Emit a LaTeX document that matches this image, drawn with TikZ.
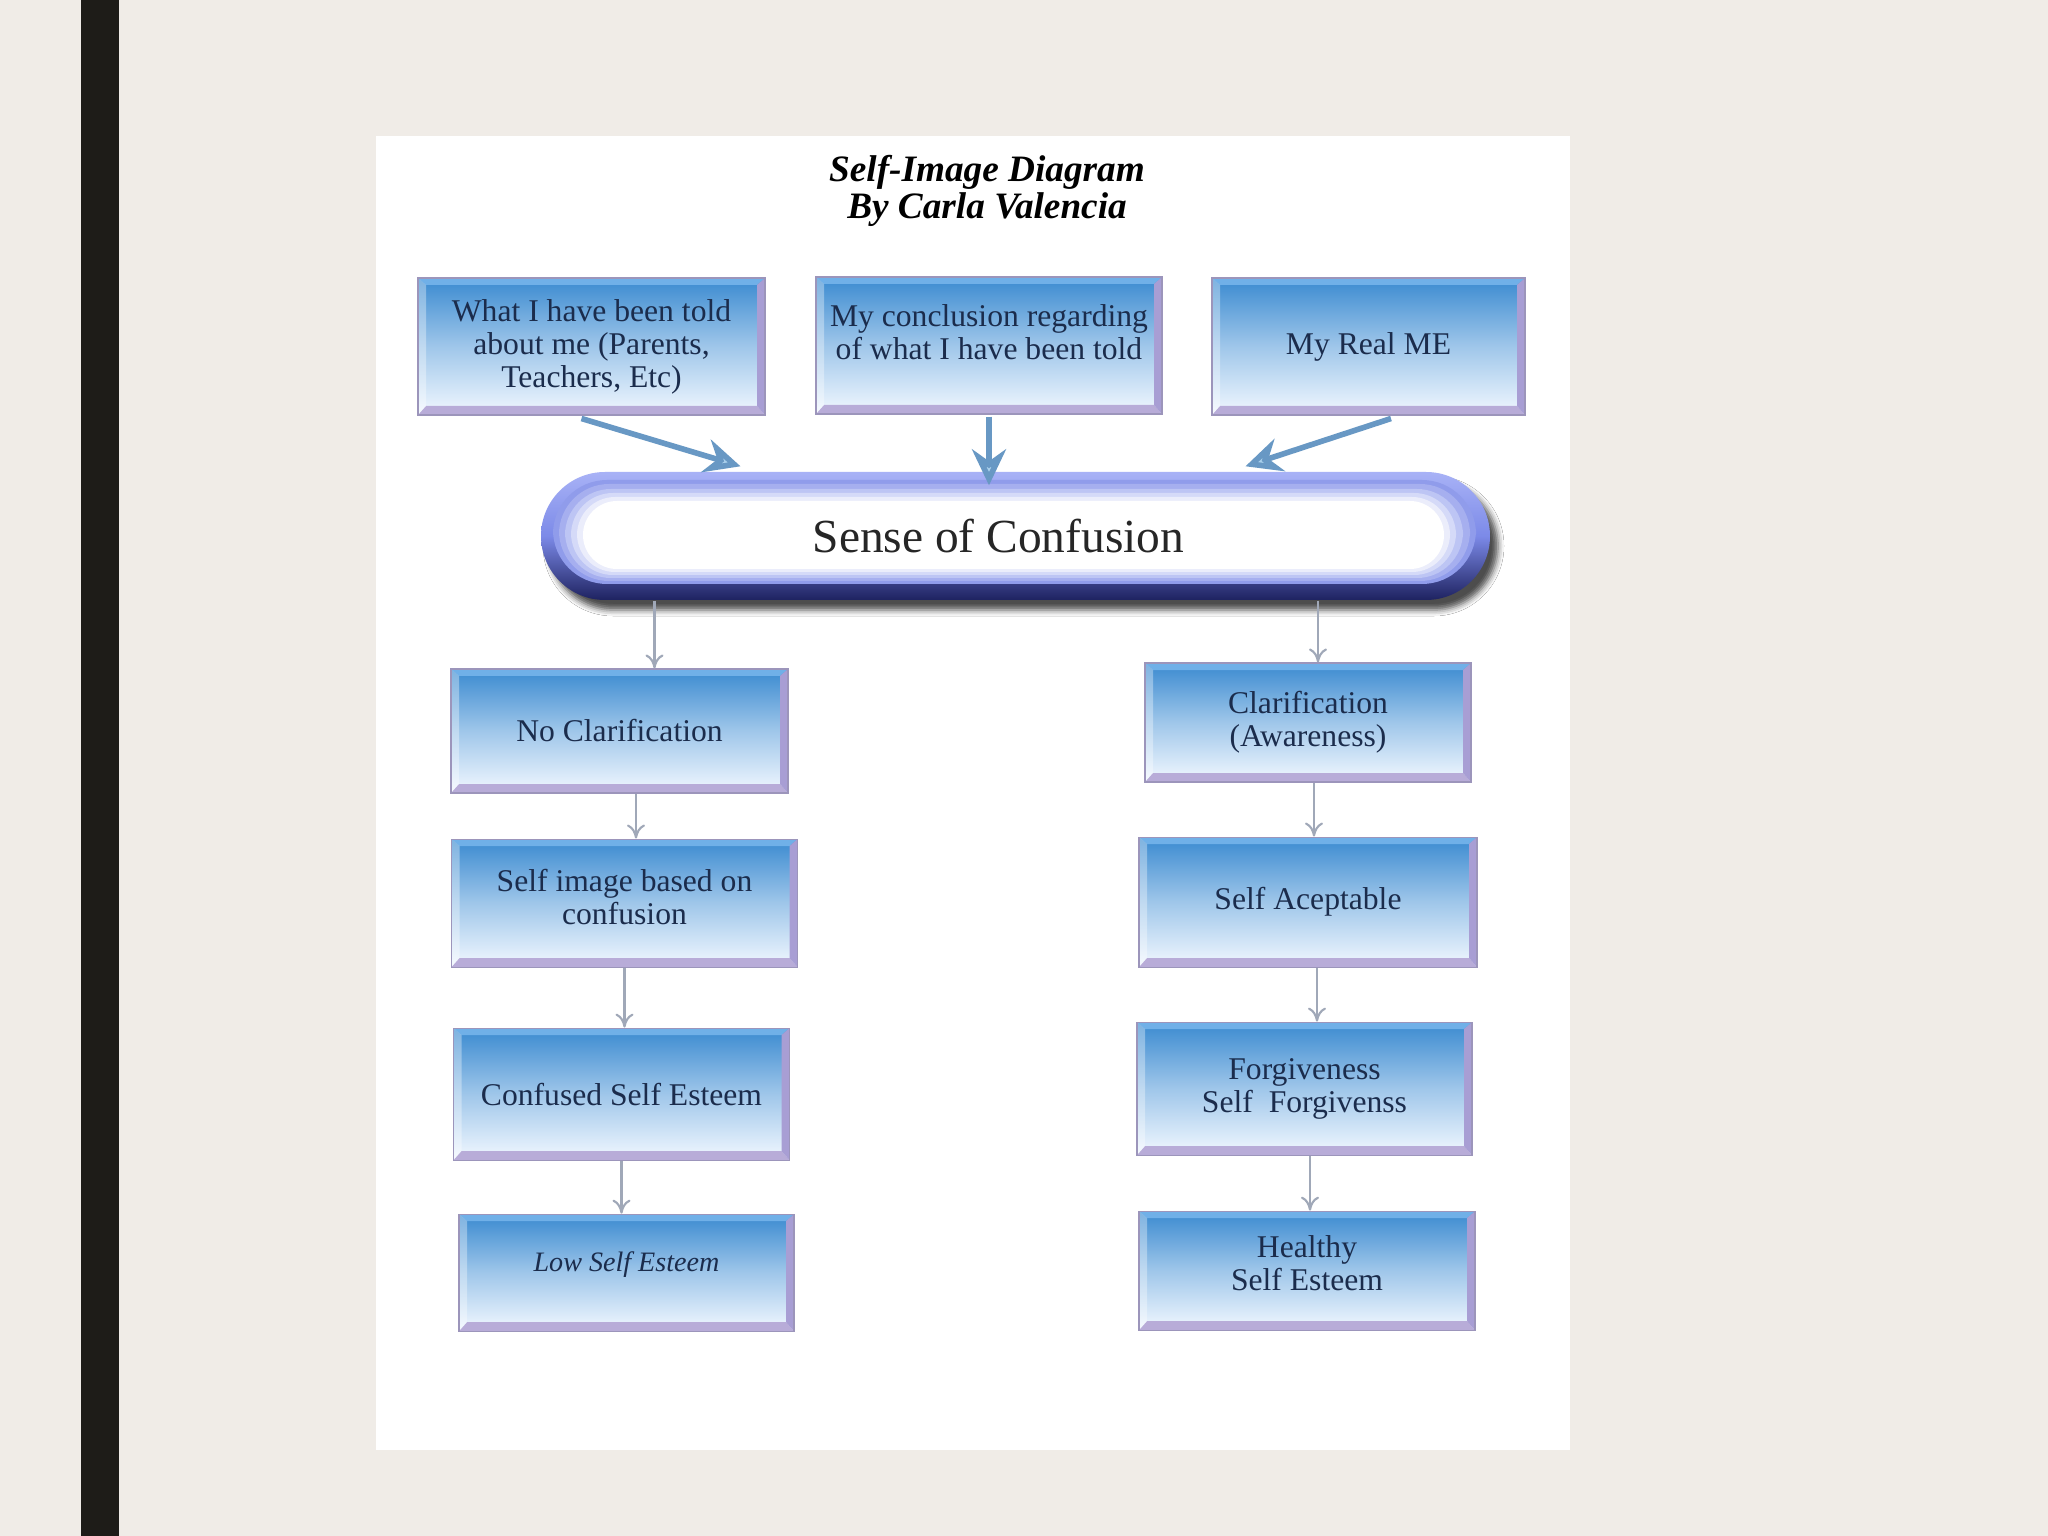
\documentclass[tikz,border=0pt]{standalone}
\usepackage{fontspec}
\setmainfont{Liberation Serif}
\usepackage{xcolor}
\usepackage{tikz}
\definecolor{pagebeige}{RGB}{240,236,231}
\definecolor{sidebar}{RGB}{30,28,24}
\definecolor{boxblue}{RGB}{58,138,208}
\definecolor{boxpale}{RGB}{242,248,255}
\definecolor{bevellight}{RGB}{112,176,232}
\definecolor{bevellilac}{RGB}{184,172,216}
\definecolor{bevelside}{RGB}{168,158,212}
\definecolor{textnavy}{RGB}{27,44,76}
\definecolor{pilltop}{RGB}{168,178,246}
\definecolor{pillmid}{RGB}{124,138,232}
\definecolor{pillbottom}{RGB}{30,34,96}
\definecolor{arrowblue}{RGB}{104,152,196}
\definecolor{arrowpale}{RGB}{170,208,236}
\definecolor{arrowgray}{RGB}{160,168,184}
\usetikzlibrary{positioning, arrows.meta, shadows.blur}

\begin{document}
\begin{tikzpicture}[
        box/.style={rectangle, minimum width=3.36cm, minimum height=1.26cm, inner sep=1pt, align=center,
            text=textnavy, font=\fontsize{9}{9.4}\selectfont,
            top color=boxblue, bottom color=boxpale, middle color=boxblue!45!boxpale,
            draw=bevelside!70!gray, line width=0.3pt,
            path picture={
                \fill[bevellight] (path picture bounding box.north west) -- (path picture bounding box.north east)
                    -- ([shift={(-0.08,-0.07)}]path picture bounding box.north east) -- ([shift={(0.08,-0.07)}]path picture bounding box.north west) -- cycle;
                \fill[bevellilac] (path picture bounding box.south west) -- (path picture bounding box.south east)
                    -- ([shift={(-0.08,0.09)}]path picture bounding box.south east) -- ([shift={(0.08,0.09)}]path picture bounding box.south west) -- cycle;
                \fill[bevelside] (path picture bounding box.north east) -- (path picture bounding box.south east)
                    -- ([shift={(-0.08,0.09)}]path picture bounding box.south east) -- ([shift={(-0.08,-0.07)}]path picture bounding box.north east) -- cycle;
                \fill[white, opacity=0.35] (path picture bounding box.north west) -- (path picture bounding box.south west)
                    -- ([shift={(0.08,0.09)}]path picture bounding box.south west) -- ([shift={(0.08,-0.07)}]path picture bounding box.north west) -- cycle;
            }},
        topbox/.style={box, minimum height=1.37cm},
        pill/.style={rectangle, rounded corners=0.64cm, minimum width=9.49cm, minimum height=1.28cm,
            top color=pilltop, bottom color=pillbottom, middle color=pillmid,
            blur shadow={shadow xshift=0.08cm, shadow yshift=-0.1cm, shadow blur radius=0.06cm, shadow opacity=70},
            path picture={
                \fill[pillmid!85!white, rounded corners=0.54cm] ([shift={(0.12,0.16)}]path picture bounding box.south west)
                    rectangle ([shift={(-0.14,-0.08)}]path picture bounding box.north east);
                \fill[pillmid!68!white, rounded corners=0.5cm] ([shift={(0.18,0.19)}]path picture bounding box.south west)
                    rectangle ([shift={(-0.2,-0.12)}]path picture bounding box.north east);
                \fill[pillmid!50!white, rounded corners=0.46cm] ([shift={(0.24,0.22)}]path picture bounding box.south west)
                    rectangle ([shift={(-0.27,-0.17)}]path picture bounding box.north east);
                \fill[pillmid!32!white, rounded corners=0.42cm] ([shift={(0.3,0.25)}]path picture bounding box.south west)
                    rectangle ([shift={(-0.34,-0.21)}]path picture bounding box.north east);
                \fill[pillmid!15!white, rounded corners=0.38cm] ([shift={(0.36,0.28)}]path picture bounding box.south west)
                    rectangle ([shift={(-0.4,-0.25)}]path picture bounding box.north east);
                \fill[white, rounded corners=0.34cm] ([shift={(0.42,0.31)}]path picture bounding box.south west)
                    rectangle ([shift={(-0.46,-0.29)}]path picture bounding box.north east);
            }},
        pilltext/.style={font=\fontsize{13.5}{14}\selectfont, text=black!85},
        title/.style={align=center, font=\fontsize{10.6}{10.5}\selectfont\bfseries\itshape},
        bigarrow/.style={line width=1.6pt, color=arrowblue, -{Stealth[length=0.36cm, width=0.34cm, inset=0.12cm, fill=arrowpale]}},
        thinarrow/.style={line width=0.6pt, color=arrowgray, -{To[length=1.4mm, width=1.8mm]}}
    ]
        \useasboundingbox (0,0) rectangle (20.48,-15.36);

        % Slide background
        \fill[pagebeige] (0,0) rectangle (20.48,-15.36);
        \fill[sidebar] (0.81,0) rectangle (1.19,-15.36);
        \fill[white] (3.76,-1.36) rectangle (15.70,-14.50);

        % Title
        \node[title] (title) at (9.87,-1.905) {Self-Image Diagram\\By Carla Valencia};

        % Top row
        \node[topbox, minimum width=3.47cm] (told) at (5.915,-3.465) {What I have been told\\about me (Parents,\\Teachers, Etc)};
        \node[topbox, minimum width=3.46cm] (conclusion) at (9.89,-3.455) {My conclusion regarding\\of what I have been told\\[-0.07cm]};
        \node[topbox, minimum width=3.13cm] (realme) at (13.685,-3.465) {My Real ME};

        % Sense of Confusion
        \node[pill] (pill) at (10.155,-5.36) {};
        \node[pilltext] (confusion) at ([xshift=-0.17cm]pill.center) {Sense of Confusion};

        % Left column
        \node[box, minimum width=3.37cm, minimum height=1.24cm] (noclar) at (6.195,-7.31) {No Clarification};
        \node[box, minimum width=3.46cm, minimum height=1.28cm, below=0.45cm of noclar, xshift=0.05cm] (selfimage) {Self image based on\\confusion\\[-0.21cm]};
        \node[box, minimum height=1.32cm, below=0.6cm of selfimage, xshift=-0.03cm] (confused) {Confused Self Esteem};
        \node[box, minimum width=3.35cm, minimum height=1.17cm, below=0.53cm of confused, xshift=0.05cm, font=\fontsize{8}{9}\selectfont\itshape] (lowesteem) {Low Self Esteem\\[-0.1cm]};

        % Right column
        \node[box, minimum width=3.26cm, minimum height=1.19cm] (clar) at (13.08,-7.225) {Clarification\\(Awareness)};
        \node[box, minimum width=3.38cm, minimum height=1.30cm, below=0.54cm of clar] (accept) {Self Aceptable};
        \node[box, minimum width=3.35cm, minimum height=1.33cm, below=0.54cm of accept, xshift=-0.035cm] (forgive) {Forgiveness\\Self~ Forgivenss};
        \node[box, minimum height=1.19cm, below=0.55cm of forgive, xshift=0.025cm] (healthy) {Healthy\\Self Esteem\\[-0.17cm]};

        % Arrows into the confusion bar
        \draw[bigarrow] ([shift={(-0.1,-0.03)}]told.south) -- ([shift={(-2.75,0.05)}]pill.north);
        \draw[bigarrow] ([yshift=-0.02cm]conclusion.south) -- ([yshift=-0.14cm]conclusion.south |- pill.north);
        \draw[bigarrow] ([shift={(0.225,-0.03)}]realme.south) -- ([shift={(2.3,0.05)}]pill.north);

        % Arrows down the columns
        \draw[thinarrow] ([xshift=0.35cm]noclar.north |- pill.south) -- ([xshift=0.35cm]noclar.north);
        \draw[thinarrow] ([xshift=0.165cm]noclar.south) -- ([xshift=0.165cm]noclar.south |- selfimage.north);
        \draw[thinarrow] (selfimage.south) -- (selfimage.south |- confused.north);
        \draw[thinarrow] (confused.south) -- (confused.south |- lowesteem.north);

        \draw[thinarrow] ([xshift=0.1cm]clar.north |- pill.south) -- ([xshift=0.1cm]clar.north);
        \draw[thinarrow] ([xshift=0.06cm]clar.south) -- ([xshift=0.06cm]clar.south |- accept.north);
        \draw[thinarrow] ([xshift=0.09cm]accept.south) -- ([xshift=0.09cm]accept.south |- forgive.north);
        \draw[thinarrow] ([xshift=0.055cm]forgive.south) -- ([xshift=0.055cm]forgive.south |- healthy.north);

    \end{tikzpicture}
\end{document}
